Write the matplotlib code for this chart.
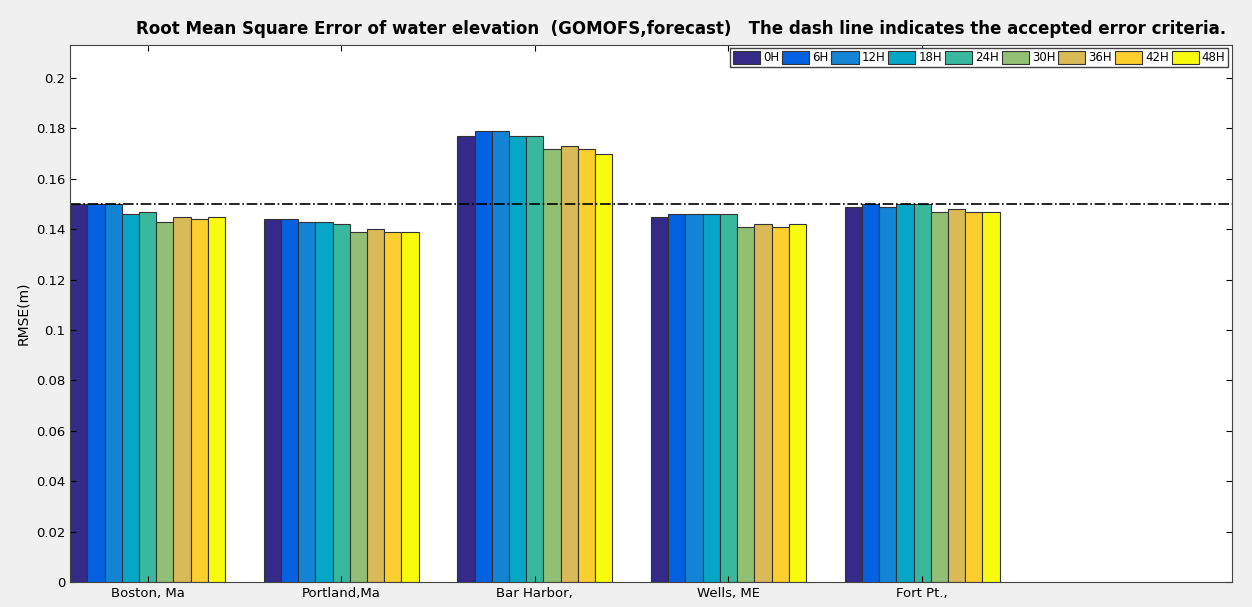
import matplotlib
matplotlib.use('Agg')
import matplotlib.pyplot as plt
import numpy as np

stations = ['Boston, Ma', 'Portland,Ma', 'Bar Harbor,', 'Wells, ME', 'Fort Pt.,']
hours = ['0H', '6H', '12H', '18H', '24H', '30H', '36H', '42H', '48H']
rmse = [
    [0.150, 0.150, 0.150, 0.146, 0.147, 0.143, 0.145, 0.144, 0.145],
    [0.144, 0.144, 0.143, 0.143, 0.142, 0.139, 0.140, 0.139, 0.139],
    [0.177, 0.179, 0.179, 0.177, 0.177, 0.172, 0.173, 0.172, 0.170],
    [0.145, 0.146, 0.146, 0.146, 0.146, 0.141, 0.142, 0.141, 0.142],
    [0.149, 0.150, 0.149, 0.150, 0.150, 0.147, 0.148, 0.147, 0.147],
]
criteria = 0.15
colors = ['#352a87', '#0362e1', '#1485d4', '#06a7c6', '#38b99e',
          '#92bf73', '#d9ba56', '#fcce2e', '#f9fb0e']

data = np.array(rmse)
x = np.arange(1, len(stations) + 1)
n = len(hours)
w = 0.8 / n

fig = plt.figure(figsize=(12.52, 6.07), dpi=100, facecolor='#f0f0f0')
ax = fig.add_axes([0.056, 0.041, 0.928, 0.885])
for i, h in enumerate(hours):
    ax.bar(x - 0.4 + w * (i + 0.5), data[:, i], width=w, color=colors[i],
           edgecolor='#333333', linewidth=0.8, label=h)

ax.axhline(criteria, color='black', linestyle='-.', linewidth=1.2)

ax.set_xlim(0.6, 6.6)
ax.set_ylim(0, 0.2131)
ax.set_xticks(x)
ax.set_xticklabels(stations, fontsize=9.5)
ax.set_yticks(np.arange(0, 0.21, 0.02))
ax.set_yticklabels(['0'] + ['%g' % v for v in np.arange(0.02, 0.21, 0.02)], fontsize=9.5)
ax.tick_params(direction='in', top=True, right=True, length=4)
ax.set_ylabel('RMSE(m)', fontsize=10)
ax.set_title('Root Mean Square Error of water elevation  (GOMOFS,forecast)   The dash line indicates the accepted error criteria.',
             fontsize=12, fontweight='bold', pad=8, x=0.526)
for s in ax.spines.values():
    s.set_color('#444444')

leg = ax.legend(ncol=n, loc='upper right', fontsize=8.5, handlelength=2.3,
                handleheight=1.2, handletextpad=0.25, columnspacing=0.25,
                borderpad=0.25, fancybox=False, edgecolor='#444444',
                framealpha=1, borderaxespad=0.3)

fig.savefig('out.png', dpi=100, facecolor=fig.get_facecolor())
